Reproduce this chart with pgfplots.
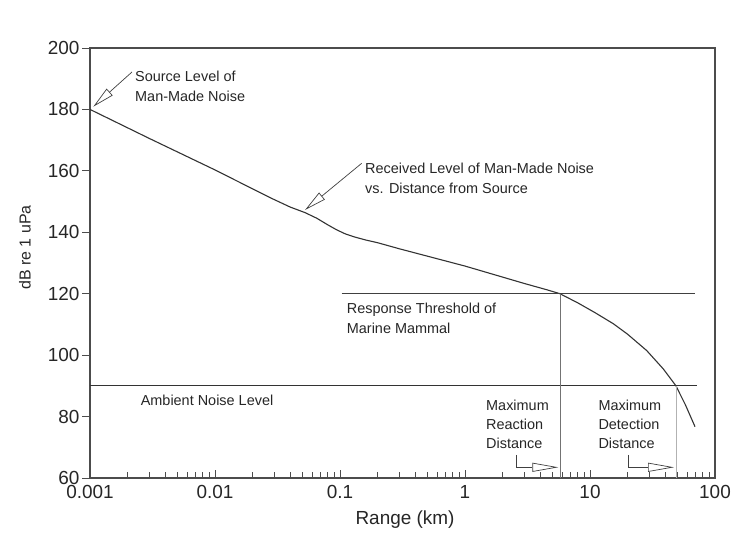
\documentclass[border=0pt]{standalone}
\usepackage{fontspec}
\setmainfont{Liberation Sans}
\usepackage{pgfplots}
\pgfplotsset{compat=1.18}
\usetikzlibrary{arrows.meta}

\begin{document}
\begin{tikzpicture}[x=1bp,y=1bp]
\begin{axis}[
  at={(0,0)}, anchor=south west,
  scale only axis, width=625bp, height=430bp,
  xmode=log, xmin=0.001, xmax=100, ymin=60, ymax=200,
  xtick={0.001,0.01,0.1,1,10,100},
  xticklabels={0.001,0.01,0.1,1,10,100},
  ytick={60,80,100,120,140,160,180,200},
  minor y tick num=0,
  tick pos=left,
  xtick align=inside,
  ytick align=outside,
  major tick length=8bp, minor tick length=6bp,
  axis line style={black!70, line width=1.1bp},
  every tick/.append style={black!70, line width=0.8bp},
  ticklabel style={font=\fontsize{19}{22}\selectfont, text=black!85},
  yticklabel style={xshift=1bp},
  xticklabel style={yshift=-4bp},
  /pgf/number format/assume math mode=true,
  xlabel={Range (km)}, ylabel={dB re 1 uPa},
  every axis x label/.style={at={(axis description cs:0.504,0)}, yshift=-42bp, anchor=center, font=\fontsize{19}{22}\selectfont, text=black!85},
  every axis y label/.style={at={(axis description cs:0,0.536)}, xshift=-65bp, rotate=90, anchor=center, font=\fontsize{16}{20}\selectfont, text=black!85},
]
\addplot[black!80, line width=1.1bp] coordinates {
 (0.001,180) (0.003,170.5) (0.01,160.3) (0.0275,151.3) (0.04,148.2) (0.0525,146.4)
 (0.065,144.6) (0.08,142.4) (0.094,140.8) (0.11,139.5) (0.13,138.5) (0.16,137.5)
 (0.2,136.6) (0.3,134.6) (1,129) (3,123.3) (4.5,121.3) (5.75,120)
 (8,117) (11,113.8) (15.4,110.2) (20,106.8) (28.4,101.5) (38.6,95.5) (48.7,90)
 (58,83.8) (69.2,76.7)
};
\addplot[black!75, line width=0.8bp] coordinates {(0.103,120) (69,120)};
\addplot[black!80, line width=1bp] coordinates {(0.001,90) (72,90)};
\addplot[black!55, line width=0.8bp] coordinates {(5.75,60) (5.75,120)};
\addplot[black!30, line width=0.8bp] coordinates {(48.7,60) (48.7,90)};
\end{axis}

\begin{scope}[every node/.style={inner sep=0pt, align=left, anchor=west, text=black!85, font=\fontsize{14.5}{20}\selectfont}]
\node at (45,391.3) {Source Level of\\Man-Made Noise};
\node at (275,299.2) {Received Level of Man-Made Noise\\vs. Distance from Source};
\node at (256.7,159.7) {Response Threshold of\\Marine Mammal};
\node at (50.6,78) {Ambient Noise Level};
\node[font=\fontsize{14.5}{19.3}\selectfont] at (396,53.7) {Maximum\\Reaction\\Distance};
\node[font=\fontsize{14.5}{19.3}\selectfont] at (508.3,53.7) {Maximum\\Detection\\Distance};
\end{scope}

\begin{scope}[black!75, line width=0.7bp]
\draw[-{Triangle[open, length=22bp, width=9bp]}] (42,406) -- (3.3,371.3);
\draw[-{Triangle[open, length=22bp, width=9bp]}] (271.7,314.7) -- (215,268);
\draw[-{Triangle[open, length=26bp, width=9bp]}] (426.7,23) -- (426.7,10.7) -- (468.3,10.7);
\draw[-{Triangle[open, length=26bp, width=9bp]}] (538.3,23) -- (538.3,10.7) -- (584,10.7);
\end{scope}

\pgfresetboundingbox
\path[use as bounding box] (-90,-59) rectangle (645,478);
\end{tikzpicture}
\end{document}
